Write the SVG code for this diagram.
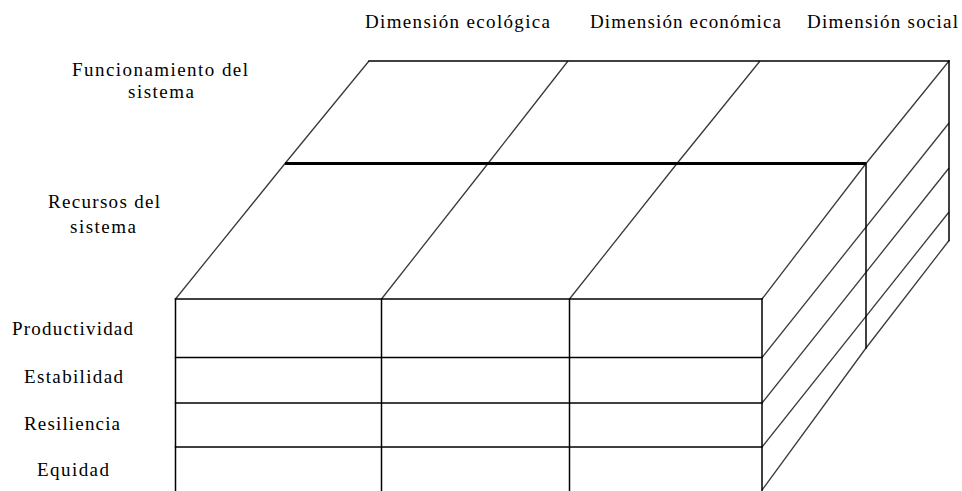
<svg xmlns="http://www.w3.org/2000/svg" width="962" height="491" viewBox="0 0 962 491">
<style>
.t{font-size:19px;fill:#000}
.e{stroke:#000;stroke-width:1.5;fill:none;stroke-linecap:square}
.k{stroke:#000;stroke-width:3;fill:none}
.d{stroke:#3a3a3a;stroke-width:1.3;fill:none}
</style>
<rect width="962" height="491" fill="#fff"/>
<g class="t" font-family="Liberation Serif, DejaVu Serif, serif">
<g id="labels-columns">
<text x="365" y="28" textLength="185" lengthAdjust="spacing">Dimensión ecológica</text>
<text x="590" y="28" textLength="191" lengthAdjust="spacing">Dimensión económica</text>
<text x="807" y="28" textLength="151" lengthAdjust="spacing">Dimensión social</text>
</g>
<g id="labels-layers">
<text x="72" y="76" textLength="176" lengthAdjust="spacing">Funcionamiento del</text>
<text x="128" y="98" textLength="66" lengthAdjust="spacing">sistema</text>
<text x="48" y="208" textLength="112" lengthAdjust="spacing">Recursos del</text>
<text x="70" y="233" textLength="66" lengthAdjust="spacing">sistema</text>
</g>
<g id="labels-rows">
<text x="12" y="335" textLength="121" lengthAdjust="spacing">Productividad</text>
<text x="24" y="383" textLength="99" lengthAdjust="spacing">Estabilidad</text>
<text x="24" y="430" textLength="96" lengthAdjust="spacing">Resiliencia</text>
<text x="37" y="476" textLength="72" lengthAdjust="spacing">Equidad</text>
</g>
</g>
<g id="connectors">
<g id="depth-lines">
<polyline class="d" points="175.5,299 285,163.5 369,61"/>
<polyline class="d" points="381.5,299 488,163.5 568,61"/>
<polyline class="d" points="569.5,299 677,163.5 760,61"/>
<polyline class="d" points="762,299 866,163.5 949,61"/>
<line class="d" x1="762" y1="357.5" x2="949" y2="123"/>
<line class="d" x1="762" y1="403" x2="949" y2="168"/>
<line class="d" x1="762" y1="447" x2="949" y2="212"/>
<polyline class="d" points="762,490 866,348 949,240.5"/>
</g>
<g id="back-edges">
<line class="e" x1="369" y1="61" x2="949" y2="61"/>
<line class="e" x1="949" y1="61" x2="949" y2="240.5"/>
<line class="k" x1="285" y1="163.5" x2="866" y2="163.5"/>
<line class="e" x1="866" y1="163.5" x2="866" y2="348"/>
</g>
</g>
<g id="front-face">
<line class="e" x1="175.5" y1="299" x2="762" y2="299"/>
<line class="e" x1="175.5" y1="357.5" x2="762" y2="357.5"/>
<line class="e" x1="175.5" y1="403" x2="762" y2="403"/>
<line class="e" x1="175.5" y1="447" x2="762" y2="447"/>
<line class="e" x1="175.5" y1="299" x2="175.5" y2="492"/>
<line class="e" x1="381.5" y1="299" x2="381.5" y2="492"/>
<line class="e" x1="569.5" y1="299" x2="569.5" y2="492"/>
<line class="e" x1="762" y1="299" x2="762" y2="492"/>
</g>
</svg>
